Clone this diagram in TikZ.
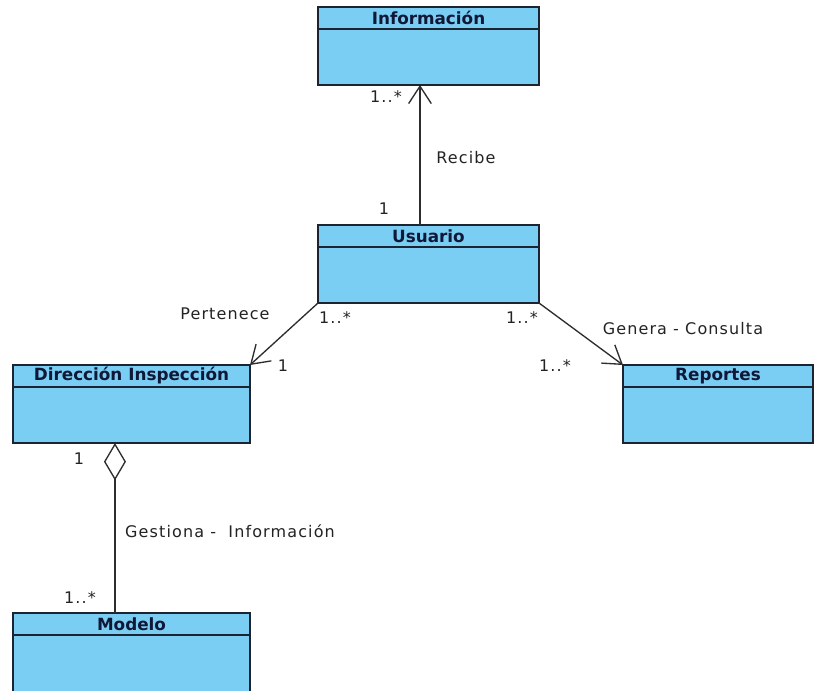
\documentclass[tikz,border=0pt]{standalone}
\usepackage{fontspec}
\setmainfont{DejaVu Sans}
\newfontfamily\lblfont[LetterSpace=7]{DejaVu Sans}
\usetikzlibrary{arrows.meta}

\definecolor{classfill}{RGB}{122,205,243}
\definecolor{classline}{RGB}{28,36,50}
\definecolor{titletext}{RGB}{16,24,56}
\definecolor{linkline}{RGB}{45,45,45}
\definecolor{lbltext}{RGB}{35,35,35}

\tikzset{
  classbox/.style={draw=classline, fill=classfill, line width=1.2pt,
    anchor=north west, inner sep=0pt, outer sep=0pt},
  classrule/.style={draw=classline, line width=1.2pt},
  classtitle/.style={font=\fontsize{12.6}{14}\selectfont\bfseries,
    text=titletext, inner sep=0pt},
  lbl/.style={font={\lblfont\fontsize{12}{13}\selectfont},
    text=lbltext, inner sep=0pt},
  assoc/.style={draw=linkline, line width=1pt,
    -{Straight Barb[length=13pt,width=17pt]}},
  aggr/.style={draw=linkline, line width=1pt,
    {Diamond[open,length=28pt,width=16.5pt]}-},
}

% class box: name, top-left corner, width, height, title
\newcommand\umlclass[5]{%
  \node[classbox, minimum width=#3, minimum height=#4] (#1) at (#2) {};
  \draw[classrule] ([yshift=-16.5pt]#1.north west) -- ([yshift=-16.5pt]#1.north east);
  \node[classtitle] (#1-title) at ([yshift=-8.25pt]#1.north) {#5};
}

\begin{document}
\begin{tikzpicture}[x=0.75pt, y=-0.75pt]
  \useasboundingbox (0,0) rectangle (815,690);
  \clip (0,0) rectangle (815,690);
  \fill[white] (0,0) rectangle (815,690);

  % classes
  \umlclass{info}{318,7}{165.75pt}{58.5pt}{Información}
  \umlclass{usu}{318,225}{165.75pt}{58.5pt}{Usuario}
  \umlclass{dir}{13,365}{177.75pt}{58.5pt}{Dirección Inspección}
  \umlclass{rep}{623,365}{142.5pt}{58.5pt}{Reportes}
  \umlclass{mod}{13,613}{177.75pt}{75pt}{Modelo}

  % associations
  \draw[assoc] ([xshift=-6.4pt]usu.north) -- ([xshift=-6.4pt]info.south);
  \draw[assoc] (usu.south west) -- (dir.north east);
  \draw[assoc] (usu.south east) -- (rep.north west);
  \draw[aggr] ([xshift=-12.4pt]dir.south) -- ([xshift=-12.4pt]mod.north);

  % role names and multiplicities
  \node[lbl] (m-info) at (386,97) {1..*};
  \node[lbl] (m-usu-top) at (384,209) {1};
  \node[lbl] (l-recibe) at (466,158) {Recibe};
  \node[lbl] (l-pertenece) at (225,314) {Pertenece};
  \node[lbl] (m-usu-left) at (335,318) {1..*};
  \node[lbl] (m-dir-top) at (283,366) {1};
  \node[lbl] (m-usu-right) at (522,318) {1..*};
  \node[lbl] (l-genera) at (683,329) {Genera - Consulta};
  \node[lbl] (m-rep) at (555,366) {1..*};
  \node[lbl] (m-dir-bottom) at (79,459) {1};
  \node[lbl] (l-gestiona) at (230,531) {Gestiona -~ Información};
  \node[lbl] (m-mod) at (80,598) {1..*};
\end{tikzpicture}
\end{document}
